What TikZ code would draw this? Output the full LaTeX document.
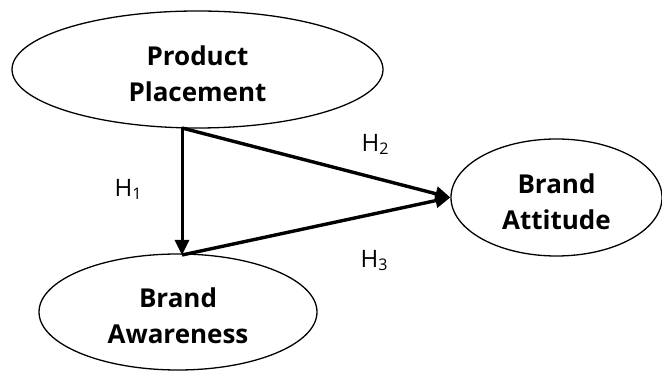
\documentclass[tikz,border=0pt]{standalone}
\usepackage{fontspec}
\setmainfont{Open Sans}
\usetikzlibrary{shapes.geometric,arrows.meta}
\tikzset{
  construct/.style={ellipse, draw, line width=1.3pt, inner sep=0pt},
  ctext/.style={align=center, inner sep=0pt, yshift=-4pt,
    font=\fontsize{26}{36}\selectfont\bfseries},
  path/.style={line width=3.4pt, -{Triangle[length=15pt,width=14pt]}},
  hyp/.style={font=\fontsize{24}{24}\selectfont, inner sep=0pt}
}
\newcommand{\hsub}[1]{H\raisebox{-3pt}{\fontsize{16}{16}\selectfont #1}}
\begin{document}
\begin{tikzpicture}[x=1pt,y=1pt]
\useasboundingbox (0,0) rectangle (662,371);
\node[construct, minimum width=371pt, minimum height=117pt,
  label={[ctext]center:Product\\Placement}] (pp) at (197.5,301.5) {};
\node[construct, minimum width=211pt, minimum height=117pt,
  label={[ctext]center:Brand\\Attitude}] (att) at (556.5,173.5) {};
\node[construct, minimum width=278pt, minimum height=116pt,
  label={[ctext]center:Brand\\Awareness}] (aw) at (178,59) {};
\coordinate (s) at (182,243);
\coordinate (t) at (182,116);
\draw[path, line width=3pt] (s) -- (t);
\draw[path] (s) -- (att.west);
\draw[path] (t) -- (att.west);
\node[hyp] (h1) at (128,182) {\hsub{1}};
\node[hyp] (h2) at (375,227) {\hsub{2}};
\node[hyp] (h3) at (374,110) {\hsub{3}};
\end{tikzpicture}
\end{document}
